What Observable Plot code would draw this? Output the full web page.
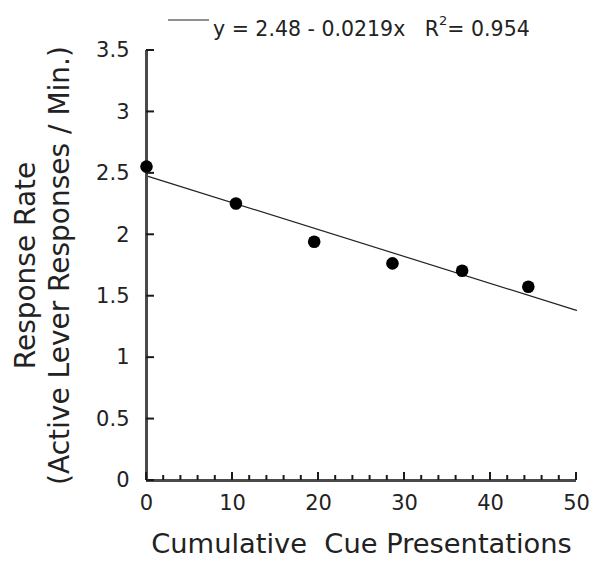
<!DOCTYPE html>
<html>
<head>
<meta charset="utf-8">
<script src="https://cdn.jsdelivr.net/npm/d3@7"></script>
<script src="https://cdn.jsdelivr.net/npm/@observablehq/plot@0.6"></script>
<style>
  html, body { margin: 0; padding: 0; background: white; }
</style>
</head>
<body>
<div id="chart"></div>
<script>
// Data
const cuePresentations = [0, 10.4, 19.5, 28.6, 36.7, 44.4];
const responseRate = [2.555, 2.255, 1.943, 1.767, 1.707, 1.577];

// Regression reported in the legend
const fitIntercept = 2.48;
const fitSlope = -0.0219;
const fitRange = [0, 50];
const rSquared = 0.954;

// Axes
const xMajorTicks = [0, 10, 20, 30, 40, 50];
const xMinorTicks = d3.range(0, 51, 2);
const yTicks = [0, 0.5, 1, 1.5, 2, 2.5, 3, 3.5];
const xTitle = "Cumulative  Cue Presentations";
const yTitle = "Response Rate\n(Active Lever Responses / Min.)";

const points = cuePresentations.map((x, i) => ({x, y: responseRate[i]}));
const fit = fitRange.map(x => ({x, y: fitIntercept + fitSlope * x}));

const axisColor = "#4a4a4a";
const tickColor = "#1a1a1a";
const font = "DejaVu Sans";

const chart = Plot.plot({
  width: 602,
  height: 566,
  marginLeft: 146,
  marginRight: 26,
  marginTop: 50,
  marginBottom: 86,
  style: {fontFamily: font, fontSize: "21px", color: "#222", background: "white", overflow: "visible"},
  x: {domain: [0, 50]},
  y: {domain: [0, 3.5]},
  marks: [
    Plot.axisY(yTicks, {tickSize: 0, tickPadding: 17, fontSize: 21, label: null, tickFormat: d => String(d)}),
    Plot.axisX(xMajorTicks, {tickSize: 0, tickPadding: 15, fontSize: 21, label: null, tickFormat: d => String(d)}),
    Plot.line(fit, {x: "x", y: "y", stroke: "#222", strokeWidth: 1.2}),
    Plot.ruleX([0], {stroke: axisColor, strokeWidth: 3}),
    Plot.ruleY([0], {stroke: axisColor, strokeWidth: 3}),
    Plot.dot(points, {x: "x", y: "y", r: 6.3, fill: "black", stroke: "none"}),
    Plot.text([xTitle], {frameAnchor: "bottom", dy: 72, lineAnchor: "bottom", textAnchor: "middle", fontSize: 27.3, fill: "#222", text: d => d}),
    Plot.text([yTitle], {frameAnchor: "left", dx: -78, rotate: -90, textAnchor: "middle", lineAnchor: "bottom", lineHeight: 1.18, fontSize: 28, fill: "#222", text: d => d})
  ]
});

const svg = d3.select(chart);
const sx = chart.scale("x"), sy = chart.scale("y");
const X = typeof sx.apply === "function" ? v => sx.apply(v) : d3.scaleLinear(sx.domain, sx.range);
const Y = typeof sy.apply === "function" ? v => sy.apply(v) : d3.scaleLinear(sy.domain, sy.range);

// Inward tick marks, positioned with the plot's own scales
const tg = svg.append("g").attr("stroke", tickColor).attr("stroke-width", 2).attr("fill", "none");
const x0 = X(0), y0 = Y(0);
yTicks.forEach(v => tg.append("path").attr("d", `M${x0},${Y(v)}h8`));
xMinorTicks.forEach(v => {
  const len = xMajorTicks.includes(v) ? 8 : 5;
  tg.append("path").attr("d", `M${X(v)},${y0}v${-len}`);
});

// Legend (regression line key and equation)
const lg = svg.append("g").attr("class", "legend").attr("text-anchor", "start");
lg.append("line")
  .attr("x1", 168).attr("x2", 209).attr("y1", 20).attr("y2", 20)
  .attr("stroke", "#222").attr("stroke-width", 1.2);
const t = lg.append("text")
  .attr("x", 213).attr("y", 36)
  .attr("text-anchor", "start")
  .attr("font-family", font).attr("font-size", 20.5).attr("fill", "#222")
  .attr("xml:space", "preserve");
t.append("tspan").text(`y = ${fitIntercept} - ${Math.abs(fitSlope)}x   R`);
t.append("tspan").attr("font-size", 13).attr("dy", -11).text("2");
t.append("tspan").attr("dy", 11).text(`= ${rSquared}`);

document.getElementById("chart").appendChild(chart);
</script>
</body>
</html>
